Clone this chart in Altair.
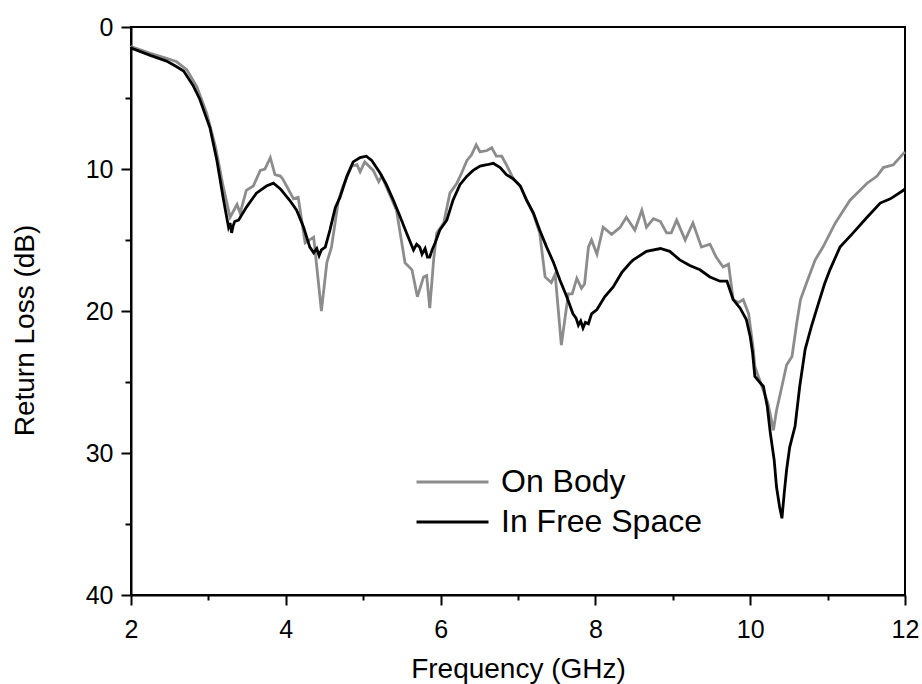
import altair as alt
import pandas as pd

# ---- data ----
series_names = ["On Body", "In Free Space"]
series_colors = ["#8c8c8c", "#000000"]

on_body_freq = [2.00, 2.01, 2.25, 2.46, 2.59, 2.72, 2.85, 2.98, 3.09, 3.19, 3.28, 3.37, 3.41, 3.49,
                3.58, 3.67, 3.73, 3.80, 3.86, 3.93, 3.96, 4.01, 4.10, 4.16, 4.25, 4.36, 4.46, 4.53,
                4.59, 4.68, 4.74, 4.85, 4.92, 4.96, 5.02, 5.13, 5.20, 5.24, 5.35, 5.43, 5.54, 5.63,
                5.70, 5.78, 5.82, 5.86, 5.91, 5.95, 6.04, 6.12, 6.21, 6.27, 6.34, 6.40, 6.46, 6.51,
                6.60, 6.66, 6.72, 6.79, 6.85, 6.94, 7.03, 7.20, 7.28, 7.35, 7.43, 7.48, 7.56, 7.65,
                7.70, 7.76, 7.82, 7.86, 7.91, 7.95, 8.02, 8.10, 8.21, 8.32, 8.40, 8.51, 8.60, 8.66,
                8.75, 8.84, 8.92, 8.98, 9.05, 9.16, 9.26, 9.37, 9.48, 9.56, 9.65, 9.72, 9.78, 9.85,
                9.91, 9.98, 10.04, 10.06, 10.15, 10.23, 10.30, 10.34, 10.41, 10.47, 10.54, 10.60,
                10.65, 10.73, 10.84, 10.94, 11.10, 11.29, 11.51, 11.64, 11.72, 11.85, 11.98, 12.00]
on_body_rl = [1.3, 1.4, 1.85, 2.2, 2.45, 3.0, 4.2, 6.1, 8.4, 11.2, 13.4, 12.5, 13.1, 11.5,
              11.2, 10.1, 10.0, 9.2, 10.4, 10.5, 10.7, 11.2, 12.1, 12.0, 15.2, 14.8, 20.0, 16.6,
              15.5, 12.2, 11.2, 9.8, 9.7, 10.2, 9.5, 10.1, 10.9, 10.5, 11.9, 12.9, 16.6, 17.1,
              19.0, 17.6, 17.5, 19.8, 16.4, 14.5, 13.8, 11.7, 11.0, 10.3, 9.4, 9.0, 8.3, 8.8,
              8.7, 8.5, 9.1, 9.1, 9.7, 10.7, 11.2, 13.2, 14.5, 17.6, 18.0, 17.4, 22.4, 18.8,
              18.8, 17.7, 18.4, 18.1, 15.5, 15.0, 16.0, 14.1, 14.6, 14.1, 13.4, 14.3, 12.9, 14.1,
              13.5, 13.7, 14.5, 14.5, 13.6, 15.0, 13.8, 15.5, 15.3, 16.2, 16.9, 16.7, 19.2, 19.4,
              19.2, 20.2, 22.7, 23.9, 25.3, 26.5, 28.4, 27.0, 25.3, 23.8, 23.2, 20.9,
              19.2, 18.0, 16.4, 15.5, 13.8, 12.2, 11.0, 10.5, 9.9, 9.7, 8.9, 8.8]

free_space_freq = [2.00, 2.01, 2.25, 2.46, 2.59, 2.68, 2.80, 2.89, 3.02, 3.11, 3.19, 3.26, 3.28, 3.30,
                   3.32, 3.34, 3.39, 3.49, 3.62, 3.75, 3.84, 3.93, 4.05, 4.14, 4.23, 4.31, 4.36, 4.40,
                   4.43, 4.46, 4.51, 4.57, 4.64, 4.70, 4.79, 4.87, 4.96, 5.04, 5.11, 5.22, 5.30, 5.39,
                   5.48, 5.56, 5.65, 5.69, 5.73, 5.76, 5.80, 5.83, 5.86, 5.89, 5.93, 5.99, 6.08, 6.16,
                   6.25, 6.34, 6.42, 6.51, 6.60, 6.68, 6.77, 6.85, 6.94, 7.03, 7.11, 7.20, 7.28, 7.37,
                   7.46, 7.54, 7.63, 7.71, 7.75, 7.78, 7.81, 7.84, 7.87, 7.91, 7.95, 8.02, 8.12, 8.23,
                   8.34, 8.45, 8.49, 8.66, 8.84, 8.96, 9.09, 9.22, 9.35, 9.48, 9.61, 9.70, 9.78, 9.87,
                   9.95, 10.00, 10.03, 10.06, 10.12, 10.17, 10.22, 10.26, 10.31, 10.34, 10.38, 10.41,
                   10.44, 10.47, 10.51, 10.58, 10.64, 10.71, 10.79, 10.88, 10.96, 11.03, 11.16, 11.33,
                   11.51, 11.68, 11.81, 11.98, 12.00]
free_space_rl = [1.4, 1.5, 2.0, 2.4, 2.8, 3.1, 4.1, 5.1, 7.1, 9.4, 12.0, 14.1, 13.8, 14.5,
                 14.0, 13.7, 13.6, 12.7, 11.7, 11.2, 11.0, 11.4, 12.2, 12.9, 14.1, 15.5, 15.9, 15.6,
                 16.1, 15.7, 15.5, 14.3, 12.7, 12.0, 10.5, 9.5, 9.2, 9.1, 9.4, 10.3, 11.1, 12.2,
                 13.4, 14.5, 15.7, 15.3, 15.5, 16.0, 15.6, 16.2, 16.2, 15.7, 15.2, 14.3, 13.6, 12.2,
                 11.1, 10.5, 10.1, 9.8, 9.7, 9.6, 9.9, 10.4, 10.7, 11.2, 12.2, 13.1, 14.3, 15.5,
                 16.6, 17.8, 19.0, 20.2, 20.5, 21.0, 20.7, 21.2, 20.8, 20.9, 20.2, 19.9, 19.0, 18.3,
                 17.3, 16.6, 16.4, 15.8, 15.6, 15.8, 16.4, 16.8, 17.1, 17.6, 17.9, 17.9, 19.2, 19.8,
                 20.6, 21.8, 22.9, 24.6, 25.0, 25.3, 26.7, 28.6, 30.5, 32.4, 33.8, 34.6,
                 32.8, 31.2, 29.6, 28.1, 25.3, 22.7, 21.1, 19.5, 18.1, 17.1, 15.5, 14.5,
                 13.4, 12.4, 12.1, 11.5, 11.4]

x_major = [2, 4, 6, 8, 10, 12]
x_minor = [3, 5, 7, 9, 11]
y_major = [0, 10, 20, 30, 40]
y_minor = [5, 15, 25, 35]

df = pd.concat([
    pd.DataFrame({"freq": on_body_freq, "rl": on_body_rl, "series": series_names[0]}),
    pd.DataFrame({"freq": free_space_freq, "rl": free_space_rl, "series": series_names[1]}),
])

FONT = "Liberation Sans"

x_scale = alt.Scale(domain=[2, 12], nice=False, zero=False)
y_scale = alt.Scale(domain=[0, 40], nice=False, zero=False, reverse=True)

color = alt.Color(
    "series:N",
    scale=alt.Scale(domain=series_names, range=series_colors),
    legend=alt.Legend(
        orient="none", legendX=284, legendY=439, title=None,
        symbolType="stroke", symbolSize=5184, symbolStrokeWidth=3,
        labelFontSize=32, labelFont=FONT, labelColor="black", labelOffset=11,
        labelLimit=400, clipHeight=32, rowPadding=8, padding=0,
    ),
)

base = alt.Chart(df)

# gray layer carries the minor-tick axes
gray = base.transform_filter(alt.datum.series == series_names[0]).mark_line(strokeWidth=2.8).encode(
    x=alt.X("freq:Q", scale=x_scale,
            axis=alt.Axis(orient="bottom", values=x_minor, tickSize=5, tickWidth=2, labels=False,
                          domain=False, title=None, grid=False)),
    y=alt.Y("rl:Q", scale=y_scale,
            axis=alt.Axis(orient="left", values=y_minor, tickSize=6, tickWidth=2, labels=False,
                          domain=False, title=None, grid=False)),
    color=color,
)

black = base.transform_filter(alt.datum.series == series_names[1]).mark_line(strokeWidth=2.8).encode(
    x=alt.X("freq:Q", scale=x_scale,
            axis=alt.Axis(orient="bottom", values=x_major, tickSize=10, tickWidth=2, domainWidth=2,
                          labelFontSize=25, labelFont=FONT, labelPadding=12, labelFlush=False,
                          title="Frequency (GHz)", titleFontSize=28, titleFont=FONT,
                          titleFontWeight="normal", titleBaseline="alphabetic", titleY=82,
                          grid=False)),
    y=alt.Y("rl:Q", scale=y_scale,
            axis=alt.Axis(orient="left", values=y_major, tickSize=10, tickWidth=2, domainWidth=2,
                          labelFontSize=25, labelFont=FONT, labelPadding=8, labelFlush=False,
                          title="Return Loss (dB)", titleFontSize=28, titleFont=FONT,
                          titleFontWeight="normal", titleAngle=270, titleBaseline="alphabetic",
                          titleAlign="center", titleX=-98, titleY=303, grid=False)),
    color=color,
)

chart = alt.layer(gray, black).resolve_axis(x="independent", y="independent").properties(
    width=774, height=568,
    autosize=alt.AutoSizeParams(type="none"),
    padding={"left": 131, "top": 27, "right": 17, "bottom": 89},
    background="white",
).configure_view(stroke="black", strokeWidth=2).configure_axis(
    domainColor="black", tickColor="black", labelColor="black", titleColor="black"
)

chart.save("out.html", embed_options={"renderer": "svg", "actions": False})
